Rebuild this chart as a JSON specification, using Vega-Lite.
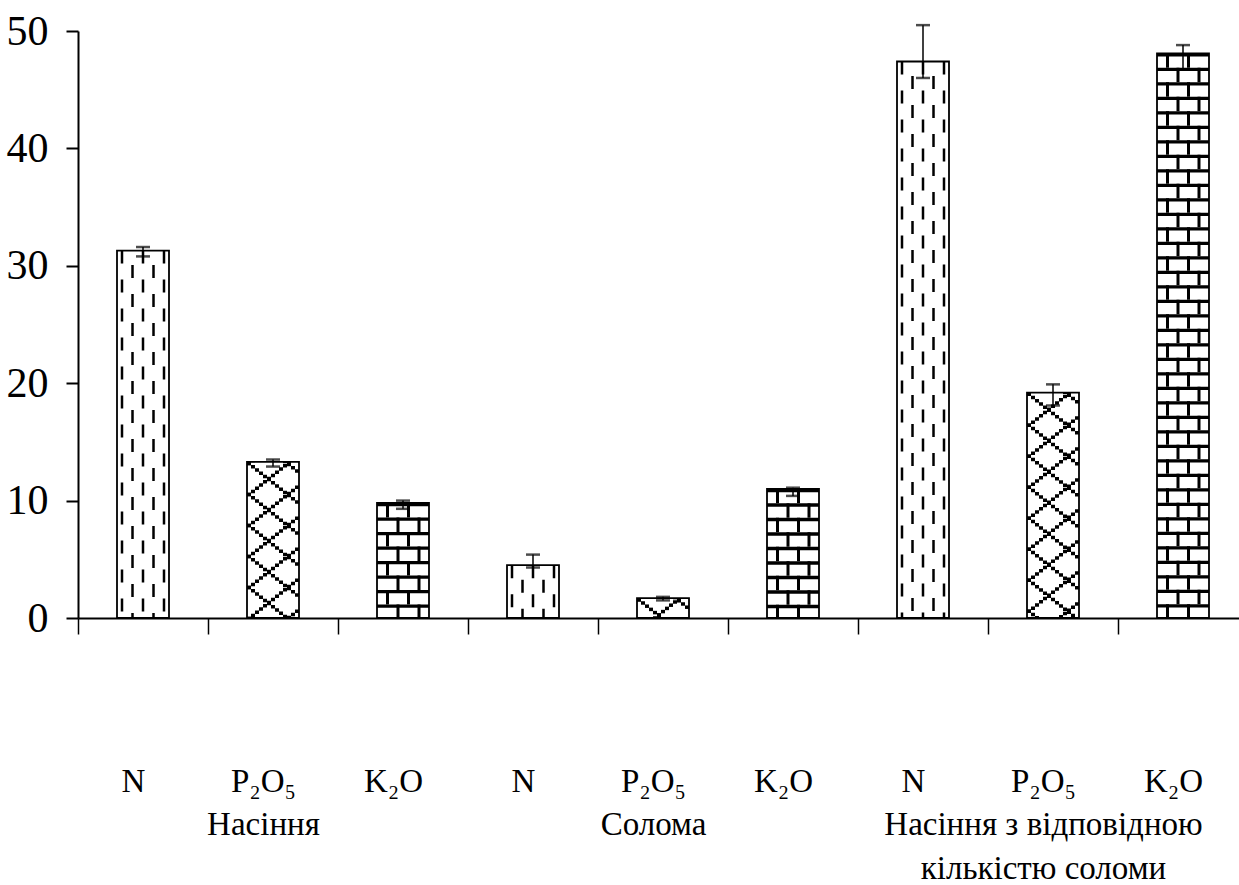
{
  "$schema": "https://vega.github.io/schema/vega-lite/v6.json",
  "width": 1161,
  "height": 587,
  "autosize": {"type": "none"},
  "padding": {"left": 78, "top": 31, "right": 0, "bottom": 267},
  "background": "white",
  "config": {
    "view": {"stroke": null},
    "font": "Liberation Serif",
    "axisY": {"labelFont": "Liberation Serif", "labelFontSize": 42, "labelColor": "black", "labelPadding": 18, "tickSize": 12, "tickWidth": 2, "tickColor": "black", "domainWidth": 2, "domainColor": "black", "grid": false, "tickCount": 5},
    "axisX": {"labelFont": "Liberation Serif", "labelFontSize": 33, "labelColor": "black", "labelPadding": 131, "labelBaseline": "top", "labelLineHeight": 43.5, "labelAngle": 0, "labelLimit": 1000, "labelOverlap": false, "tickSize": 16, "tickWidth": 1.5, "tickColor": "black", "domainWidth": 2, "domainColor": "black", "grid": false}
  },
  "data": {"values": [
    {"id": "0", "el": "N", "v": 31.3, "lo": 30.8, "hi": 31.6},
    {"id": "1", "el": "P", "v": 13.3, "lo": 12.9, "hi": 13.5},
    {"id": "2", "el": "K", "v": 9.8, "lo": 9.3, "hi": 10.0},
    {"id": "3", "el": "N", "v": 4.5, "lo": 4.3, "hi": 5.4},
    {"id": "4", "el": "P", "v": 1.7, "lo": 1.5, "hi": 1.8},
    {"id": "5", "el": "K", "v": 11.0, "lo": 10.4, "hi": 11.1},
    {"id": "6", "el": "N", "v": 47.4, "lo": 46.0, "hi": 50.5},
    {"id": "7", "el": "P", "v": 19.2, "lo": 18.1, "hi": 19.9},
    {"id": "8", "el": "K", "v": 48.1, "lo": 46.7, "hi": 48.8}
  ]},
  "encoding": {
    "x": {
      "field": "id", "type": "nominal", "sort": null, "title": null,
      "scale": {"paddingInner": 0, "paddingOuter": 0, "range": [0, 1170]},
      "axis": {
        "tickBand": "extent",
        "labelOffset": -10,
        "labelExpr": "[['N'],['P₂O₅','Насіння'],['K₂O'],['N'],['P₂O₅','Солома'],['K₂O'],['N'],['P₂O₅','Насіння з відповідною','кількістю соломи'],['K₂O']][toNumber(datum.value)]"
      }
    }
  },
  "layer": [
    {
      "mark": {"type": "bar", "width": {"band": 0.4}, "fill": "white", "strokeWidth": 0},
      "encoding": {
        "y": {"field": "v", "type": "quantitative", "scale": {"domain": [0, 50], "nice": false}, "title": null},
        "y2": {"datum": 0}
      }
    },
    {
      "transform": [{"filter": {"field": "el", "equal": "N"}}],
      "encoding": {
        "y": {"field": "v", "type": "quantitative", "scale": {"domain": [0, 50], "nice": false}, "title": null},
        "y2": {"datum": 0}
      },
      "layer": [
        {"mark": {"type": "rule", "color": "black", "strokeWidth": 2.5, "xOffset": -21, "strokeDash": [13, 16], "strokeDashOffset": 0}, "encoding": {}},
        {"mark": {"type": "rule", "color": "black", "strokeWidth": 2.5, "xOffset": -10.5, "strokeDash": [13, 16], "strokeDashOffset": 14.5}, "encoding": {}},
        {"mark": {"type": "rule", "color": "black", "strokeWidth": 2.5, "xOffset": 0, "strokeDash": [13, 16], "strokeDashOffset": 0}, "encoding": {}},
        {"mark": {"type": "rule", "color": "black", "strokeWidth": 2.5, "xOffset": 10.5, "strokeDash": [13, 16], "strokeDashOffset": 14.5}, "encoding": {}},
        {"mark": {"type": "rule", "color": "black", "strokeWidth": 2.5, "xOffset": 21, "strokeDash": [13, 16], "strokeDashOffset": 0}, "encoding": {}}
      ]
    },
    {
      "transform": [{"filter": {"field": "el", "equal": "K"}}],
      "encoding": {
        "y": {"field": "v", "type": "quantitative", "scale": {"domain": [0, 50], "nice": false}, "title": null},
        "y2": {"datum": 0}
      },
      "layer": [
        {"mark": {"type": "rule", "color": "black", "strokeWidth": 52, "strokeDash": [3.3, 11.2]}, "encoding": {}},
        {"mark": {"type": "rule", "color": "black", "strokeWidth": 3, "xOffset": -15.5, "strokeDash": [14.5, 14.5], "strokeDashOffset": 0}, "encoding": {}},
        {"mark": {"type": "rule", "color": "black", "strokeWidth": 3, "xOffset": 5.5, "strokeDash": [14.5, 14.5], "strokeDashOffset": 0}, "encoding": {}},
        {"mark": {"type": "rule", "color": "black", "strokeWidth": 3, "xOffset": -5, "strokeDash": [14.5, 14.5], "strokeDashOffset": 14.5}, "encoding": {}},
        {"mark": {"type": "rule", "color": "black", "strokeWidth": 3, "xOffset": 16, "strokeDash": [14.5, 14.5], "strokeDashOffset": 14.5}, "encoding": {}}
      ]
    },
    {
      "transform": [{"filter": {"field": "el", "equal": "P"}}],
      "encoding": {
        "y": {"field": "v", "type": "quantitative", "scale": {"domain": [0, 50], "nice": false}, "title": null},
        "y2": {"datum": 0}
      },
      "layer": [
        {"mark": {"type": "rule", "color": "black", "strokeWidth": 4, "xOffset": -24, "strokeDash": [3.5, 27.5], "strokeDashOffset": 0}, "encoding": {}},
        {"mark": {"type": "rule", "color": "black", "strokeWidth": 4, "xOffset": -20, "strokeDash": [3.5, 27.5], "strokeDashOffset": 3.2}, "encoding": {}},
        {"mark": {"type": "rule", "color": "black", "strokeWidth": 4, "xOffset": -16, "strokeDash": [3.5, 27.5], "strokeDashOffset": 6.4}, "encoding": {}},
        {"mark": {"type": "rule", "color": "black", "strokeWidth": 4, "xOffset": -12, "strokeDash": [3.5, 27.5], "strokeDashOffset": 9.6}, "encoding": {}},
        {"mark": {"type": "rule", "color": "black", "strokeWidth": 4, "xOffset": -8, "strokeDash": [3.5, 27.5], "strokeDashOffset": 12.8}, "encoding": {}},
        {"mark": {"type": "rule", "color": "black", "strokeWidth": 4, "xOffset": -4, "strokeDash": [3.5, 27.5], "strokeDashOffset": 16}, "encoding": {}},
        {"mark": {"type": "rule", "color": "black", "strokeWidth": 4, "xOffset": 0, "strokeDash": [3.5, 27.5], "strokeDashOffset": 19.2}, "encoding": {}},
        {"mark": {"type": "rule", "color": "black", "strokeWidth": 4, "xOffset": 4, "strokeDash": [3.5, 27.5], "strokeDashOffset": 22.4}, "encoding": {}},
        {"mark": {"type": "rule", "color": "black", "strokeWidth": 4, "xOffset": 8, "strokeDash": [3.5, 27.5], "strokeDashOffset": 25.6}, "encoding": {}},
        {"mark": {"type": "rule", "color": "black", "strokeWidth": 4, "xOffset": 12, "strokeDash": [3.5, 27.5], "strokeDashOffset": 28.8}, "encoding": {}},
        {"mark": {"type": "rule", "color": "black", "strokeWidth": 4, "xOffset": 16, "strokeDash": [3.5, 27.5], "strokeDashOffset": 32}, "encoding": {}},
        {"mark": {"type": "rule", "color": "black", "strokeWidth": 4, "xOffset": 20, "strokeDash": [3.5, 27.5], "strokeDashOffset": 35.2}, "encoding": {}},
        {"mark": {"type": "rule", "color": "black", "strokeWidth": 4, "xOffset": 24, "strokeDash": [3.5, 27.5], "strokeDashOffset": 38.4}, "encoding": {}},
        {"mark": {"type": "rule", "color": "black", "strokeWidth": 4, "xOffset": -24, "strokeDash": [3.5, 27.5], "strokeDashOffset": 62}, "encoding": {}},
        {"mark": {"type": "rule", "color": "black", "strokeWidth": 4, "xOffset": -20, "strokeDash": [3.5, 27.5], "strokeDashOffset": 58.8}, "encoding": {}},
        {"mark": {"type": "rule", "color": "black", "strokeWidth": 4, "xOffset": -16, "strokeDash": [3.5, 27.5], "strokeDashOffset": 55.6}, "encoding": {}},
        {"mark": {"type": "rule", "color": "black", "strokeWidth": 4, "xOffset": -12, "strokeDash": [3.5, 27.5], "strokeDashOffset": 52.4}, "encoding": {}},
        {"mark": {"type": "rule", "color": "black", "strokeWidth": 4, "xOffset": -8, "strokeDash": [3.5, 27.5], "strokeDashOffset": 49.2}, "encoding": {}},
        {"mark": {"type": "rule", "color": "black", "strokeWidth": 4, "xOffset": -4, "strokeDash": [3.5, 27.5], "strokeDashOffset": 46}, "encoding": {}},
        {"mark": {"type": "rule", "color": "black", "strokeWidth": 4, "xOffset": 0, "strokeDash": [3.5, 27.5], "strokeDashOffset": 42.8}, "encoding": {}},
        {"mark": {"type": "rule", "color": "black", "strokeWidth": 4, "xOffset": 4, "strokeDash": [3.5, 27.5], "strokeDashOffset": 39.6}, "encoding": {}},
        {"mark": {"type": "rule", "color": "black", "strokeWidth": 4, "xOffset": 8, "strokeDash": [3.5, 27.5], "strokeDashOffset": 36.4}, "encoding": {}},
        {"mark": {"type": "rule", "color": "black", "strokeWidth": 4, "xOffset": 12, "strokeDash": [3.5, 27.5], "strokeDashOffset": 33.2}, "encoding": {}},
        {"mark": {"type": "rule", "color": "black", "strokeWidth": 4, "xOffset": 16, "strokeDash": [3.5, 27.5], "strokeDashOffset": 30}, "encoding": {}},
        {"mark": {"type": "rule", "color": "black", "strokeWidth": 4, "xOffset": 20, "strokeDash": [3.5, 27.5], "strokeDashOffset": 26.8}, "encoding": {}},
        {"mark": {"type": "rule", "color": "black", "strokeWidth": 4, "xOffset": 24, "strokeDash": [3.5, 27.5], "strokeDashOffset": 23.6}, "encoding": {}}
      ]
    },
    {
      "mark": {"type": "bar", "width": {"band": 0.4}, "fillOpacity": 0, "stroke": "black", "strokeWidth": 1.8},
      "encoding": {
        "y": {"field": "v", "type": "quantitative", "scale": {"domain": [0, 50], "nice": false}, "title": null},
        "y2": {"datum": 0}
      }
    },
    {
      "mark": {"type": "rule", "color": "black", "strokeWidth": 1.5},
      "encoding": {
        "y": {"field": "lo", "type": "quantitative", "scale": {"domain": [0, 50], "nice": false}, "title": null},
        "y2": {"field": "hi"}
      }
    },
    {
      "mark": {"type": "tick", "color": "black", "size": 14, "thickness": 2.5},
      "encoding": {
        "y": {"field": "hi", "type": "quantitative", "scale": {"domain": [0, 50], "nice": false}, "title": null}
      }
    },
    {
      "mark": {"type": "tick", "color": "black", "size": 14, "thickness": 2.5},
      "encoding": {
        "y": {"field": "lo", "type": "quantitative", "scale": {"domain": [0, 50], "nice": false}, "title": null}
      }
    }
  ]
}
